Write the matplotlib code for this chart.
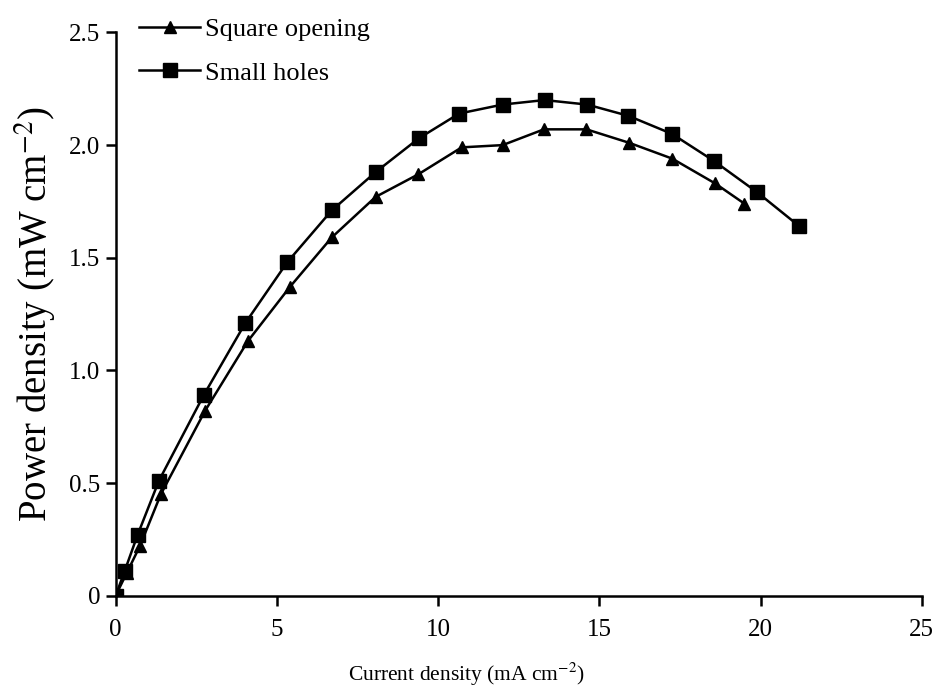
import matplotlib
matplotlib.use("Agg")
import matplotlib.pyplot as plt

plt.rcParams['font.family'] = ['Liberation Serif', 'DejaVu Serif']
plt.rcParams['mathtext.fontset'] = 'stix'

# current density (mA cm-2) / power density (mW cm-2)
x_square = [0, 0.34, 0.75, 1.4, 2.77, 4.1, 5.4, 6.7, 8.06, 9.38, 10.73, 12.0,
            13.28, 14.6, 15.93, 17.26, 18.59, 19.5]
y_square = [0, 0.10, 0.22, 0.45, 0.82, 1.13, 1.37, 1.59, 1.77, 1.87, 1.99, 2.0,
            2.07, 2.07, 2.01, 1.94, 1.83, 1.74]

x_holes = [0, 0.28, 0.68, 1.34, 2.73, 4.02, 5.32, 6.7, 8.06, 9.4, 10.65, 12.0,
           13.3, 14.62, 15.9, 17.25, 18.55, 19.9, 21.2]
y_holes = [0, 0.11, 0.27, 0.51, 0.89, 1.21, 1.48, 1.71, 1.88, 2.03, 2.14, 2.18,
           2.2, 2.18, 2.13, 2.05, 1.93, 1.79, 1.64]

fig = plt.figure(figsize=(9.33, 6.91), dpi=100)
ax = fig.add_axes([0.124, 0.138, 0.864, 0.815])

ax.plot(x_square, y_square, color='black', marker='^', markersize=9, lw=1.8,
        label='Square opening')
ax.plot(x_holes, y_holes, color='black', marker='s', markersize=10, lw=1.8,
        label='Small holes')

ax.set_xlim(0, 25)
ax.set_ylim(0, 2.5)
ax.set_xticks([0, 5, 10, 15, 20, 25])
ax.set_yticks([0, 0.5, 1.0, 1.5, 2.0, 2.5])
ax.set_yticklabels(['0', '0.5', '1.0', '1.5', '2.0', '2.5'])
ax.spines['top'].set_visible(False)
ax.spines['right'].set_visible(False)
for s in ['left', 'bottom']:
    ax.spines[s].set_linewidth(1.8)
ax.tick_params(direction='out', length=7, width=1.8, labelsize=18)
ax.tick_params(axis='x', pad=10)
ax.tick_params(axis='y', pad=4)

ax.set_xlabel('Current density (mA cm$^{-2}$)', fontsize=15.5)
ax.xaxis.set_label_coords(0.435, -0.115)
ax.set_ylabel('Power density (mW cm$^{-2}$)', fontsize=28, labelpad=8)

ax.legend(loc='upper left', bbox_to_anchor=(0.0, 1.068), frameon=False,
          fontsize=19, handlelength=2.3, handletextpad=0.2, labelspacing=0.75)

fig.savefig('out.png', dpi=100)
